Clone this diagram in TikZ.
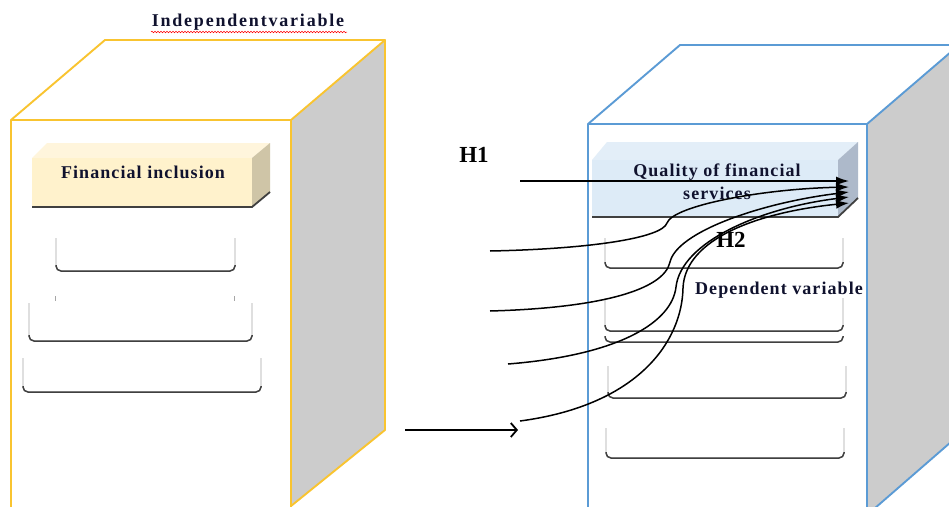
\documentclass[tikz,border=0pt]{standalone}
\usepackage{fontspec}
\setmainfont{Liberation Serif}
\newfontfamily\lsfont[LetterSpace=6]{Liberation Serif}
\newfontfamily\lsbig[LetterSpace=10]{Liberation Serif}
\usetikzlibrary{arrows.meta,decorations.pathmorphing}
\definecolor{cubeY}{HTML}{F9C430}
\definecolor{cubeB}{HTML}{5B9BD5}
\definecolor{sidegray}{HTML}{CCCCCC}
\definecolor{creamF}{HTML}{FFF2CC}
\definecolor{creamT}{HTML}{FFF5DC}
\definecolor{creamS}{HTML}{CFC5A7}
\definecolor{blueF}{HTML}{DDEBF7}
\definecolor{blueT}{HTML}{E3EEF8}
\definecolor{blueS}{HTML}{ADB9CA}
\definecolor{txt}{HTML}{10122E}
\tikzset{
  cubeedge/.style={line width=1.9pt, line join=round},
  barbottom/.style={draw=black!75, line width=1.8pt},
  boxside/.style={draw=black!35, line width=0.7pt, rounded corners=5pt},
  boxbottom/.style={draw=black!75, line width=1.5pt, rounded corners=5pt},
  lbl/.style={font=\lsfont\bfseries\fontsize{18}{21}\selectfont, text=txt, inner sep=0pt, align=center},
  hyp/.style={font=\bfseries\fontsize{23}{26}\selectfont, text=black, inner sep=0pt},
  link/.style={line width=1.5pt, -{Latex[length=13pt,width=9pt]}},
}
\newcommand{\obox}[4]{%
  \path[boxside] (#1,#3) -- (#1,#4) -- (#2,#4) -- (#2,#3);
  \path[boxbottom] (#1,#4-6) -- (#1,#4) -- (#2,#4) -- (#2,#4-6);
}
\begin{document}
\begin{tikzpicture}[x=1pt,y=-1pt]
\useasboundingbox (0,0) rectangle (949,506);
\fill[white] (0,0) rectangle (949,506);
\begin{scope}
\clip (0,0) rectangle (949,506);
% ---------- left cube ----------
\fill[white] (11,120) rectangle (291,520);
\filldraw[fill=sidegray, draw=cubeY, cubeedge] (291,120) -- (385,40) -- (385,430) -- (291,506) -- cycle;
\draw[cubeY, cubeedge] (11,520) -- (11,120) -- (105,40) -- (385,40);
\draw[cubeY, cubeedge] (11,120) -- (291,120) -- (291,520);
% Financial inclusion bar
\fill[creamT] (32,158) -- (47,143) -- (270,143) -- (252,158) -- cycle;
\fill[creamS] (252,158) -- (270,143) -- (270,192) -- (252,207) -- cycle;
\fill[creamF] (32,158) rectangle (252,207);
\draw[barbottom] (32,207) -- (252,207) -- (270,192);
% open boxes left
\obox{56}{235}{238}{271}
\draw[black!35, line width=0.7pt] (55,296) -- (55,301) (234,296) -- (234,301);
\obox{29}{252}{303}{341}
\obox{23}{261}{358}{392}
% ---------- right cube ----------
\fill[white] (588,124) rectangle (867,520);
\filldraw[fill=sidegray, draw=cubeB, cubeedge] (867,124) -- (959,45) -- (959,435) -- (867,515) -- cycle;
\draw[cubeB, cubeedge] (588,520) -- (588,124) -- (680,45) -- (959,45);
\draw[cubeB, cubeedge] (588,124) -- (867,124) -- (867,520);
% Quality bar
\fill[blueT] (592,160) -- (607,142) -- (858,142) -- (838,160) -- cycle;
\fill[blueS] (838,160) -- (858,142) -- (858,198) -- (838,217) -- cycle;
\fill[blueF] (592,160) rectangle (838,217);
\draw[barbottom] (592,217) -- (838,217) -- (858,198);
% open boxes right
\obox{605}{843}{238}{268}
\obox{605}{843}{298}{331}
\path[boxbottom] (605,336) -- (605,342) -- (843,342) -- (843,336);
\obox{608}{846}{366}{398}
\obox{606}{844}{428}{458}
\end{scope}
% ---------- texts ----------
\node[font=\lsbig\bfseries\fontsize{18}{21}\selectfont, text=txt, inner sep=0pt] (indep) at (248,22) {Independentvariable};
\draw[red, line width=0.5pt, decorate, decoration={snake, amplitude=0.8pt, segment length=3pt}] (151,32) -- (347,32);
\node[lbl] (fin) at (143,172) {Financial inclusion};
\node[lbl] (qual) at (717,172) {Quality of financial};
\node[lbl] (serv) at (717,193) {services};
\node[lbl] (dep) at (779,290) {Dependent variable};
\node[hyp] (h1) at (474,155) {H1};
\node[hyp] (h2) at (731,240) {H2};
% ---------- connectors ----------
\coordinate (s0) at (520,181);
\coordinate (s1) at (490,251);
\coordinate (s2) at (490,311);
\coordinate (s3) at (508,364);
\coordinate (s4) at (520,421);
\coordinate (e0) at (849,181);
\coordinate (e1) at (849,187);
\coordinate (e2) at (849,192);
\coordinate (e3) at (849,197);
\coordinate (e4) at (849,203);
\coordinate (bA) at (405,430);
\coordinate (bB) at (518,430);
\draw[link] (s0) -- (e0);
\draw[link] (s1) .. controls (590,249) and (662,238) .. (667,223) .. controls (673,206) and (760,189) .. (e1);
\draw[link] (s2) .. controls (600,308) and (664,290) .. (670,262) .. controls (677,232) and (760,203) .. (e2);
\draw[link] (s3) .. controls (620,355) and (672,322) .. (676,287) .. controls (681,242) and (760,208) .. (e3);
\draw[link] (s4) .. controls (640,405) and (682,340) .. (683,288) .. controls (685,238) and (760,212) .. (e4);
\draw[line width=1.8pt, -{Straight Barb[length=6pt,width=14pt]}] (bA) -- (bB);
\end{tikzpicture}
\end{document}
